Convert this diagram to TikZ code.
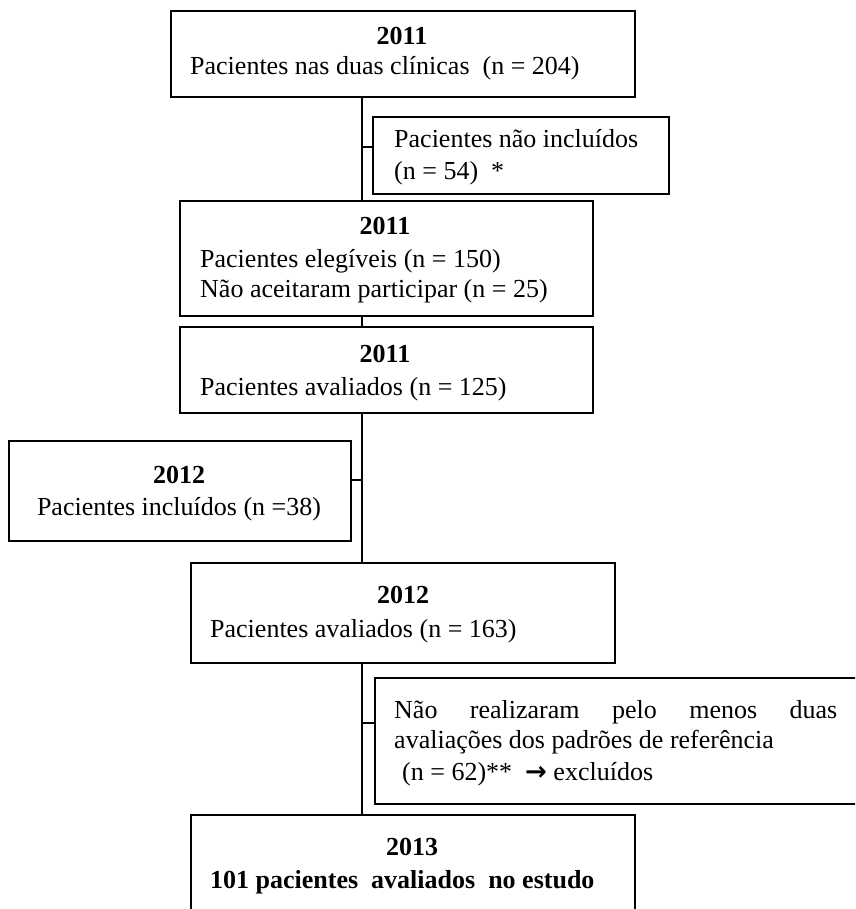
\documentclass[tikz,border=0pt]{standalone}
\usepackage{fontspec}
\setmainfont{Liberation Serif}
\newfontfamily\arrowfont{DejaVu Sans}
\begin{document}
\begin{tikzpicture}[x=1pt,y=-1pt,
  box/.style={draw=black,line width=1.6pt,rectangle,inner sep=0pt,anchor=north west},
  conn/.style={draw=black,line width=1.3pt},
  txt/.style={inner sep=0pt,font=\fontsize{26}{30}\selectfont},
  yr/.style={txt,anchor=base,font=\fontsize{26}{30}\selectfont\bfseries},
  ln/.style={txt,anchor=base west}]
\useasboundingbox (0,0) rectangle (855,909);
\clip (0,0) rectangle (855,909);
% boxes
\node[box,minimum width=464pt,minimum height=86pt] (b1) at (170,10) {};
\node[box,minimum width=296pt,minimum height=77pt] (b2) at (372,116) {};
\node[box,minimum width=413pt,minimum height=115pt] (b3) at (179,200) {};
\node[box,minimum width=413pt,minimum height=86pt] (b4) at (179,326) {};
\node[box,minimum width=342pt,minimum height=100pt] (b5) at (8,440) {};
\node[box,minimum width=424pt,minimum height=100pt] (b6) at (190,562) {};
\node[box,minimum width=500pt,minimum height=126pt] (b7) at (374,677) {};
\node[box,minimum width=444pt,minimum height=120pt] (b8) at (190,814) {};
% texts
\node[yr] (t1a) at (402,45) {2011};
\node[ln] (t1b) at (190,75) {Pacientes nas duas clínicas \ (n = 204)};
\node[ln] (t2a) at (394,148) {Pacientes não incluídos};
\node[ln] (t2b) at (394,180) {(n = 54) \ *};
\node[yr] (t3a) at (385,235) {2011};
\node[ln] (t3b) at (200,267) {Pacientes elegíveis (n = 150)};
\node[ln] (t3c) at (200,297) {Não aceitaram participar (n = 25)};
\node[yr] (t4a) at (385,362) {2011};
\node[ln] (t4b) at (200,395) {Pacientes avaliados (n = 125)};
\node[yr] (t5a) at (179,483) {2012};
\node[txt,anchor=base] (t5b) at (179,515) {Pacientes incluídos (n =38)};
\node[yr] (t6a) at (403,603) {2012};
\node[ln] (t6b) at (210,637) {Pacientes avaliados (n = 163)};
\node[ln] (t7a) at (394,718) {\hbox to 443pt{Não\hfil realizaram\hfil pelo\hfil menos\hfil duas}};
\node[ln] (t7b) at (394,748) {avaliações dos padrões de referência};
\node[ln] (t7c) at (402,780) {(n = 62)** \ {\arrowfont\bfseries →} excluídos};
\node[yr] (t8a) at (412,855) {2013};
\node[ln,font=\fontsize{26}{30}\selectfont\bfseries] (t8b) at (210,888) {101 pacientes \ avaliados \ no estudo};
% spine and ticks
\coordinate (sp) at (362,0);
\coordinate (k2) at (362,147);
\coordinate (k5) at (362,480);
\coordinate (k7) at (362,723);
\draw[conn] (b1.south -| sp) -- (b3.north -| sp);
\draw[conn] (b3.south -| sp) -- (b4.north -| sp);
\draw[conn] (b4.south -| sp) -- (b6.north -| sp);
\draw[conn] (b6.south -| sp) -- (b8.north -| sp);
\draw[conn] (k2) -- (k2 -| b2.west);
\draw[conn] (k5) -- (k5 -| b5.east);
\draw[conn] (k7) -- (k7 -| b7.west);
\end{tikzpicture}
\end{document}
